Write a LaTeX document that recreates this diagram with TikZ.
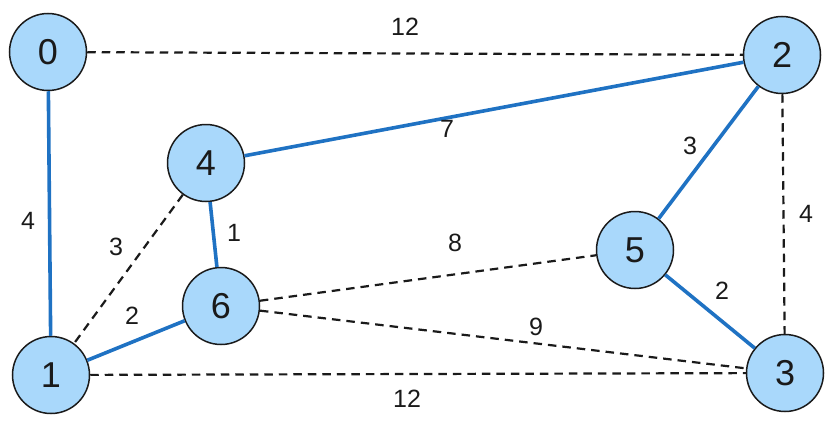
\documentclass[tikz,border=0pt]{standalone}
\usepackage{fontspec}
\setmainfont{Liberation Sans}
\definecolor{nodefill}{HTML}{A9D8FB}
\definecolor{treeblue}{HTML}{1F72C3}
\definecolor{ink}{HTML}{1A1A1A}
\begin{document}
\begin{tikzpicture}[x=1pt,y=-1pt,
  vertex/.style={circle,draw=ink,line width=1.5pt,fill=nodefill,minimum size=77pt,inner sep=0pt,
    font=\fontsize{36}{36}\selectfont,text=ink},
  treeedge/.style={draw=treeblue,line width=3.6pt},
  otheredge/.style={draw=ink,line width=2.2pt,dash pattern=on 8.5pt off 6pt},
  wlabel/.style={font=\fontsize{25}{25}\selectfont,text=ink,inner sep=0pt}]
\useasboundingbox (0,0) rectangle (832,423);
\node[vertex] (n0) at (48,52) {0};
\node[vertex] (n2) at (782,55) {2};
\node[vertex] (n4) at (206,163) {4};
\node[vertex] (n6) at (221,306) {6};
\node[vertex] (n5) at (635,250) {5};
\node[vertex] (n1) at (51,375) {1};
\node[vertex] (n3) at (785,373) {3};
% edges drawn between node borders
\draw[otheredge] (n0) -- (n2);
\draw[treeedge] (n0) -- (n1);
\draw[treeedge] (n4) -- (n2);
\draw[treeedge] (n2) -- (n5);
\draw[otheredge] (n2) -- (n3);
\draw[treeedge] (n4) -- (n6);
\draw[otheredge] (n4) -- (n1);
\draw[treeedge] (n6) -- (n1);
\draw[otheredge] (n6) -- (n5);
\draw[treeedge] (n5) -- (n3);
\draw[otheredge] (n6) -- (n3);
\draw[otheredge] (n1) -- (n3);
% weights
\node[wlabel] (w02) at (405,27) {12};
\node[wlabel] (w01) at (28,221) {4};
\node[wlabel] (w42) at (447,129) {7};
\node[wlabel] (w25) at (690,146) {3};
\node[wlabel] (w23) at (806,214) {4};
\node[wlabel] (w46) at (234,233) {1};
\node[wlabel] (w41) at (116,247) {3};
\node[wlabel] (w61) at (132,316) {2};
\node[wlabel] (w65) at (455,243) {8};
\node[wlabel] (w53) at (722,291) {2};
\node[wlabel] (w63) at (536,327) {9};
\node[wlabel] (w13) at (407,399) {12};
\end{tikzpicture}
\end{document}
